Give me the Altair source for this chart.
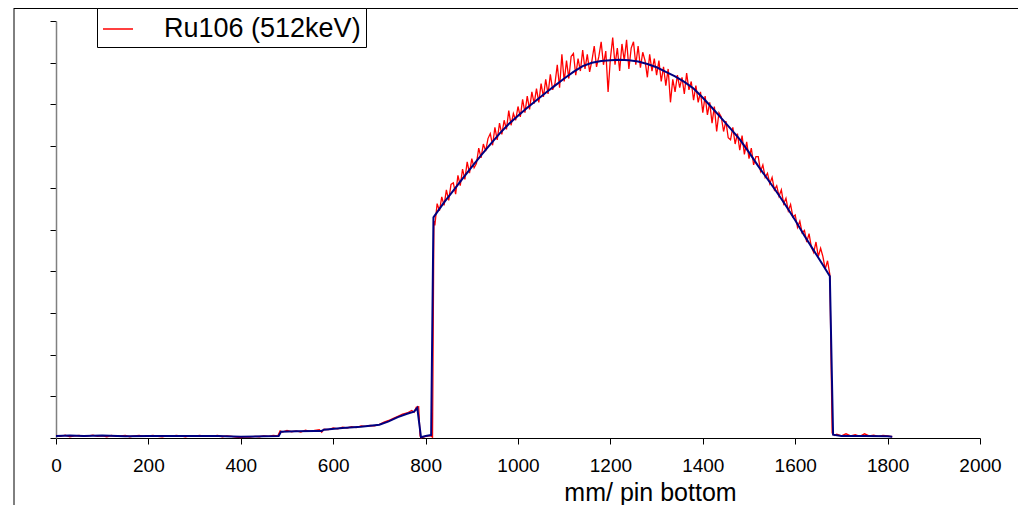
import altair as alt
import pandas as pd

x_ticks = [0, 200, 400, 600, 800, 1000, 1200, 1400, 1600, 1800, 2000]
y_ticks = [0, 1, 2, 3, 4, 5, 6, 7, 8, 9, 10]
series_name = "Ru106 (512keV)"

# red (measured) series, low region
red_low_mm = [0, 10, 20, 30, 40, 50, 60, 70, 80, 90, 100, 110, 120, 130, 140, 150, 160, 170, 180, 190,
              200, 210, 220, 230, 240, 250, 260, 270, 280, 290, 300, 310, 320, 330, 340, 350, 360, 370, 380, 390,
              400, 410, 420, 430, 440, 450, 460, 470, 480, 485, 490, 500, 510, 520, 530, 540, 550, 560, 570, 575,
              580, 590, 600, 610, 620, 630, 640, 650, 660, 670, 680, 690, 700, 710, 720, 730, 740, 750, 760, 770,
              775, 780, 785, 788, 790, 800, 810, 815, 818]
red_low_val = [0.06, 0.04, 0.07, 0.03, 0.05, 0.06, 0.04, 0.05, 0.07, 0.04, 0.05, 0.03, 0.06, 0.04, 0.05, 0.06, 0.03, 0.05, 0.06, 0.04,
               0.05, 0.06, 0.04, 0.03, 0.05, 0.04, 0.06, 0.05, 0.03, 0.05, 0.04, 0.06, 0.05, 0.04, 0.05, 0.06, 0.03, 0.05, 0.04, 0.02,
               0.01, 0.03, 0.02, 0.04, 0.03, 0.05, 0.04, 0.06, 0.05, 0.17, 0.14, 0.18, 0.15, 0.17, 0.14, 0.19, 0.16, 0.18, 0.20, 0.14,
               0.21, 0.20, 0.24, 0.22, 0.26, 0.24, 0.27, 0.25, 0.29, 0.28, 0.30, 0.29, 0.33, 0.38, 0.42, 0.47, 0.52, 0.57, 0.60, 0.66,
               0.62, 0.74, 0.75, 0.05, 0.00, 0.04, 0.06, 0.02, 5.20]

# red series, plateau region
red_hump_mm = [820, 825, 830, 835, 840, 845, 850, 855, 860, 865, 870, 875,
               880, 885, 890, 895, 900, 905, 910, 915, 920, 925, 930, 935,
               940, 945, 950, 955, 960, 965, 970, 975, 980, 985, 990, 995,
               1000, 1005, 1010, 1015, 1020, 1025, 1030, 1035, 1040, 1045, 1050, 1055,
               1060, 1065, 1070, 1075, 1080, 1085, 1090, 1095, 1100, 1105, 1110, 1115,
               1120, 1125, 1130, 1135, 1140, 1145, 1150, 1155, 1160, 1165, 1170, 1175,
               1180, 1185, 1190, 1195, 1200, 1205, 1210, 1215, 1220, 1225, 1230, 1235,
               1240, 1245, 1250, 1255, 1260, 1265, 1270, 1275, 1280, 1285, 1290, 1295,
               1300, 1305, 1310, 1315, 1320, 1325, 1330, 1335, 1340, 1345, 1350, 1355,
               1360, 1365, 1370, 1375, 1380, 1385, 1390, 1395, 1400, 1405, 1410, 1415,
               1420, 1425, 1430, 1435, 1440, 1445, 1450, 1455, 1460, 1465, 1470, 1475,
               1480, 1485, 1490, 1495, 1500, 1505, 1510, 1515, 1520, 1525, 1530, 1535,
               1540, 1545, 1550, 1555, 1560, 1565, 1570, 1575, 1580, 1585, 1590, 1595,
               1600, 1605, 1610, 1615, 1620, 1625, 1630, 1635, 1640, 1645, 1650, 1655,
               1660, 1665, 1670, 1675]
red_hump_val = [5.10, 5.62, 5.45, 5.78, 5.58, 5.95, 5.70, 6.08, 6.12, 5.85, 6.30, 6.05,
                6.45, 6.20, 6.62, 6.35, 6.70, 6.48, 6.58, 6.95, 6.72, 7.05, 6.88, 7.18,
                7.30, 7.02, 7.45, 7.15, 7.55, 7.28, 7.62, 7.40, 7.85, 7.50, 7.78, 7.62,
                7.95, 7.70, 8.12, 7.80, 8.20, 7.88, 8.30, 8.02, 8.38, 8.05, 8.50, 8.18,
                8.60, 8.25, 8.72, 8.35, 8.50, 8.95, 8.40, 9.20, 8.55, 9.05, 8.62, 9.15,
                9.22, 8.70, 9.10, 8.80, 9.30, 8.85, 9.20, 8.78, 9.05, 9.40, 8.90, 9.15,
                9.50, 8.95, 9.28, 8.30, 9.10, 9.60, 8.95, 9.35, 8.80, 9.45, 9.05, 9.55,
                8.85, 9.35, 9.50, 8.95, 9.40, 8.88, 9.25, 9.05, 8.65, 9.20, 8.80, 9.10,
                8.70, 9.05, 8.55, 8.90, 8.45, 8.85, 8.05, 8.60, 8.30, 8.70, 8.40, 8.65,
                8.25, 8.75, 8.35, 8.55, 8.10, 8.45, 8.05, 8.30, 7.80, 8.20, 7.75, 8.05,
                7.55, 7.95, 7.35, 7.80, 7.70, 7.35, 7.60, 7.20, 7.15, 7.45, 7.05, 7.30,
                6.90, 7.25, 6.80, 7.10, 6.70, 6.95, 6.55, 6.75, 6.75, 6.40, 6.55, 6.25,
                6.35, 6.10, 6.25, 5.95, 6.05, 5.80, 5.95, 5.62, 5.75, 5.45, 5.60, 5.30,
                5.35, 5.05, 5.20, 4.92, 4.98, 4.70, 4.90, 4.58, 4.45, 4.70, 4.35, 4.55,
                4.35, 4.05, 4.25, 3.92]

# red series, tail
red_tail_mm = [1680, 1685, 1690, 1700, 1710, 1720, 1730, 1740, 1750, 1760, 1770, 1780, 1790, 1800, 1810]
red_tail_val = [0.12, 0.06, 0.09, 0.05, 0.10, 0.05, 0.08, 0.04, 0.10, 0.05, 0.07, 0.04, 0.06, 0.05, 0.03]

# blue (smoothed) series
blue_mm = [0, 30, 60, 100, 150, 200, 250, 300, 350, 400, 450, 482, 487, 520, 560, 575, 580, 620, 660, 700,
           720, 740, 760, 775, 782, 790, 800, 812, 817, 840, 860, 880, 900, 920, 940, 960, 980, 1000, 1020, 1040,
           1060, 1080, 1100, 1120, 1140, 1160, 1180, 1200, 1220, 1240, 1260, 1280, 1300, 1320, 1340, 1360, 1380,
           1400, 1420, 1440, 1460, 1480, 1500, 1520, 1540, 1560, 1580, 1600, 1620, 1640, 1660, 1675, 1682, 1700,
           1750, 1800, 1810]
blue_val = [0.05, 0.06, 0.05, 0.06, 0.04, 0.05, 0.05, 0.05, 0.05, 0.03, 0.04, 0.05, 0.15, 0.16, 0.17, 0.17, 0.20, 0.24, 0.27, 0.32,
            0.40, 0.50, 0.58, 0.63, 0.72, 0.02, 0.05, 0.07, 5.29, 5.65, 5.93, 6.22, 6.50, 6.78, 7.04, 7.30, 7.53, 7.73, 7.92, 8.10,
            8.28, 8.45, 8.62, 8.78, 8.92, 9.00, 9.04, 9.06, 9.07, 9.06, 9.03, 8.97, 8.89, 8.78, 8.67, 8.54, 8.38,
            8.16, 7.92, 7.67, 7.42, 7.16, 6.85, 6.52, 6.21, 5.90, 5.57, 5.22, 4.85, 4.50, 4.15, 3.88, 0.08, 0.05,
            0.05, 0.04, 0.03]

red_df = pd.concat([
    pd.DataFrame({"mm": red_low_mm, "v": red_low_val}),
    pd.DataFrame({"mm": red_hump_mm, "v": red_hump_val}),
    pd.DataFrame({"mm": red_tail_mm, "v": red_tail_val}),
], ignore_index=True)
red_df["series"] = series_name
blue_df = pd.DataFrame({"mm": blue_mm, "v": blue_val})

FONT = "Liberation Sans"

x_enc = alt.X("mm:Q",
              scale=alt.Scale(domain=[0, 2000], nice=False, zero=False),
              axis=alt.Axis(values=x_ticks, title="mm/ pin bottom", format="d",
                            labelFontSize=19, labelFont=FONT, labelColor="black",
                            labelPadding=12, labelFlush=False, labelOverlap=False,
                            tickSize=6, tickColor="black",
                            domainColor="black", titleFont=FONT, titleFontSize=25,
                            titleFontWeight="normal", titleColor="black",
                            titleX=594, titleY=62, titleAlign="center",
                            titleBaseline="alphabetic", grid=False))
y_enc = alt.Y("v:Q",
              scale=alt.Scale(domain=[0, 10], nice=False),
              axis=alt.Axis(values=y_ticks, labels=False, title=None, tickSize=6,
                            tickColor="black", domainColor="#808080", domainWidth=1.5,
                            grid=False))

red = alt.Chart(red_df).mark_line(strokeWidth=1.3).encode(
    x=x_enc, y=y_enc,
    color=alt.Color("series:N",
                    scale=alt.Scale(domain=[series_name], range=["#ff0000"]),
                    legend=alt.Legend(title=None, orient="none", legendX=41, legendY=-13,
                                      strokeColor="black", fillColor="white", padding=5,
                                      symbolType="stroke", symbolSize=900,
                                      symbolStrokeWidth=1.5, labelFont=FONT,
                                      labelFontSize=27, labelOffset=30, labelLimit=500,
                                      labelColor="black")),
)
blue = alt.Chart(blue_df).mark_line(strokeWidth=2, color="#000080").encode(x=x_enc, y=y_enc)

frame_data = alt.Data(values=[{"k": 0}])
frame_left = alt.Chart(frame_data).mark_rule(color="black", strokeWidth=1).encode(
    x=alt.value(-42), y=alt.value(-13), y2=alt.value(484))
frame_top = alt.Chart(frame_data).mark_rule(color="black", strokeWidth=1).encode(
    x=alt.value(-42), x2=alt.value(962), y=alt.value(-12.5))

chart = alt.layer(red, blue, frame_left, frame_top).properties(
    width=924, height=417,
    autosize=alt.AutoSizeParams(type="none"),
    padding={"left": 48, "top": 13, "right": 38, "bottom": 67},
    background="white",
).configure_view(stroke=None)

chart.save("out.html", embed_options={"renderer": "svg", "actions": False})
